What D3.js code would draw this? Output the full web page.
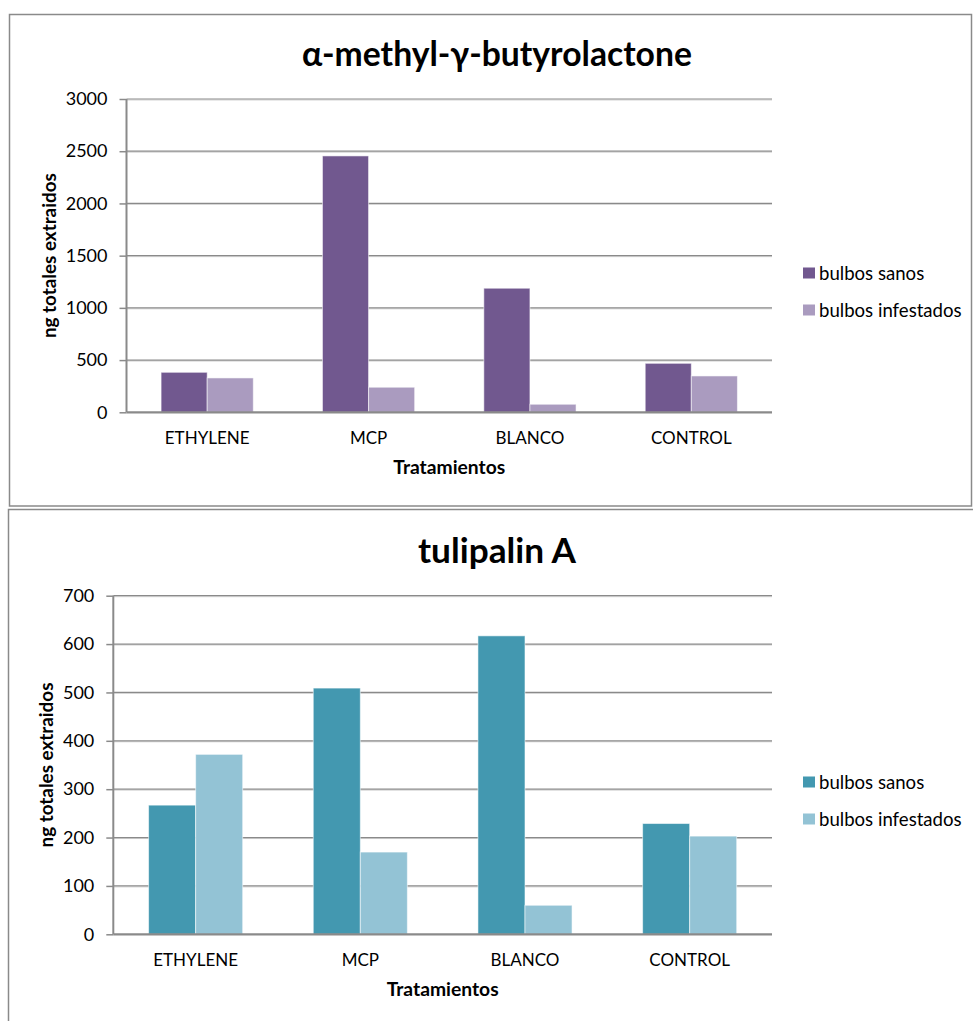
<!DOCTYPE html>
<html>
<head>
<meta charset="utf-8">
<script src="https://cdn.jsdelivr.net/npm/d3@7"></script>
<style>
  html, body { margin: 0; padding: 0; background: #fff; }
  svg { display: block; }
  text { font-family: Lato, "Open Sans", sans-serif; fill: #000; }
</style>
</head>
<body>
<svg id="chart" width="973" height="1021"></svg>
<script>
// Treatments on the x axis
const categories = ["ETHYLENE", "MCP", "BLANCO", "CONTROL"];
const seriesNames = ["bulbos sanos", "bulbos infestados"];

// α-methyl-γ-butyrolactone, ng extracted
const butyroSanos = [383, 2455, 1188, 469];
const butyroInfestados = [329, 240, 77, 348];
const butyroTicks = [0, 500, 1000, 1500, 2000, 2500, 3000];

// tulipalin A, ng extracted
const tulipSanos = [267, 509, 617, 229];
const tulipInfestados = [372, 170, 60, 203];
const tulipTicks = [0, 100, 200, 300, 400, 500, 600, 700];

const svg = d3.select("#chart");

// shrink or grow a text's font so it spans the given width
function fitWidth(sel, width) {
  const node = sel.node();
  const fs = parseFloat(sel.attr("font-size"));
  const w = node.getComputedTextLength();
  sel.attr("font-size", (fs * width / w).toFixed(2));
}

function drawPanel(cfg) {
  const g = svg.append("g");

  // outer frame
  g.append("rect")
    .attr("x", cfg.frame[0]).attr("y", cfg.frame[1])
    .attr("width", cfg.frame[2]).attr("height", cfg.frame[3])
    .attr("fill", "#fff").attr("stroke", "#8a8a8a").attr("stroke-width", 1.5);

  const x0 = d3.scaleBand().domain(categories).range([cfg.left, cfg.right]).padding(0);
  const band = x0.bandwidth();
  const barW = band / 3.5;
  const x1 = d3.scaleBand().domain(seriesNames).range([0, 2 * barW]);

  const y = d3.scaleLinear().domain([0, d3.max(cfg.ticks)]).range([cfg.bottom, cfg.top]);

  // horizontal gridlines with a faint shadow line under each
  g.append("g").selectAll("line").data(cfg.ticks.slice(1)).join("line")
    .attr("x1", cfg.left).attr("x2", cfg.right)
    .attr("y1", d => y(d) + 1).attr("y2", d => y(d) + 1)
    .attr("stroke", "#d4d4d4").attr("stroke-width", 1);
  g.append("g").selectAll("line").data(cfg.ticks.slice(1)).join("line")
    .attr("x1", cfg.left).attr("x2", cfg.right)
    .attr("y1", d => y(d)).attr("y2", d => y(d))
    .attr("stroke", "#8a8a8a").attr("stroke-width", 1.2);

  // y axis: line, ticks and labels
  const yAxis = d3.axisLeft(y).tickValues(cfg.ticks).tickSize(7).tickPadding(12)
    .tickFormat(d3.format("d"));
  const ya = g.append("g").attr("transform", `translate(${cfg.left},0)`).call(yAxis);
  ya.select(".domain").remove();
  ya.selectAll(".tick line").attr("stroke", "#8a8a8a").attr("stroke-width", 1.5);
  ya.selectAll(".tick text").attr("font-family", "Lato, sans-serif")
    .attr("font-size", 18).attr("fill", "#000");
  g.append("line")
    .attr("x1", cfg.left).attr("x2", cfg.left)
    .attr("y1", cfg.top).attr("y2", cfg.bottom)
    .attr("stroke", "#8a8a8a").attr("stroke-width", 2);

  // bars
  const rows = categories.map((c, i) => ({ cat: c, vals: [cfg.sanos[i], cfg.infestados[i]] }));
  g.append("g").selectAll("g").data(rows).join("g")
    .attr("transform", d => `translate(${x0(d.cat) + band / 2 - barW},0)`)
    .selectAll("rect").data(d => d.vals.map((v, j) => ({ name: seriesNames[j], v })))
    .join("rect")
    .attr("x", d => x1(d.name))
    .attr("y", d => y(d.v))
    .attr("width", barW)
    .attr("height", d => cfg.bottom - y(d.v))
    .attr("fill", d => d.name === seriesNames[0] ? cfg.colors[0] : cfg.colors[1])
    .attr("stroke", "rgba(255,255,255,0.55)").attr("stroke-width", 1);

  // x axis baseline and category labels
  g.append("line")
    .attr("x1", cfg.left).attr("x2", cfg.right)
    .attr("y1", cfg.bottom).attr("y2", cfg.bottom)
    .attr("stroke", "#8a8a8a").attr("stroke-width", 2.2);
  const xAxis = d3.axisBottom(x0).tickSize(0).tickPadding(20);
  const xa = g.append("g").attr("transform", `translate(0,${cfg.bottom})`).call(xAxis);
  xa.select(".domain").remove();
  xa.selectAll(".tick text").attr("font-family", "Lato, sans-serif")
    .attr("font-size", 17).attr("fill", "#000");

  // titles
  const title = g.append("text")
    .attr("x", 497).attr("y", cfg.titleY)
    .attr("text-anchor", "middle").attr("font-weight", "bold")
    .attr("font-size", 32).text(cfg.title);
  fitWidth(title, cfg.titleW);

  const xt = g.append("text")
    .attr("x", (cfg.left + cfg.right) / 2).attr("y", cfg.bottom + 62)
    .attr("text-anchor", "middle").attr("font-weight", "bold")
    .attr("font-size", 17).text("Tratamientos");
  fitWidth(xt, 112);

  const yt = g.append("text")
    .attr("transform", `translate(${cfg.yTitleX},${(cfg.top + cfg.bottom) / 2}) rotate(-90)`)
    .attr("text-anchor", "middle").attr("dy", "0.35em").attr("font-weight", "bold")
    .attr("font-size", 17).text("ng totales extraidos");
  fitWidth(yt, 165);

  // legend
  const lg = g.append("g").attr("transform", `translate(803,${cfg.legendY})`);
  seriesNames.forEach((n, i) => {
    lg.append("rect").attr("x", 0).attr("y", i * 37 - 5.5)
      .attr("width", 12).attr("height", 11).attr("fill", cfg.colors[i]);
    lg.append("text").attr("x", 16).attr("y", i * 37).attr("dy", "0.35em")
      .attr("font-size", 18.6).text(n);
  });
}

drawPanel({
  frame: [9.5, 14.5, 962, 491.5],
  left: 126.5, right: 772, top: 99, bottom: 412.3,
  ticks: butyroTicks, sanos: butyroSanos, infestados: butyroInfestados,
  colors: ["#71588f", "#aa9bbf"],
  title: "α-methyl-γ-butyrolactone", titleY: 66, titleW: 390,
  yTitleX: 49, legendY: 273
});

drawPanel({
  frame: [8.5, 509.5, 980, 530],
  left: 113.3, right: 772, top: 595.7, bottom: 934.3,
  ticks: tulipTicks, sanos: tulipSanos, infestados: tulipInfestados,
  colors: ["#4398b0", "#93c3d5"],
  title: "tulipalin A", titleY: 563, titleW: 158,
  yTitleX: 46, legendY: 782
});
</script>
</body>
</html>
